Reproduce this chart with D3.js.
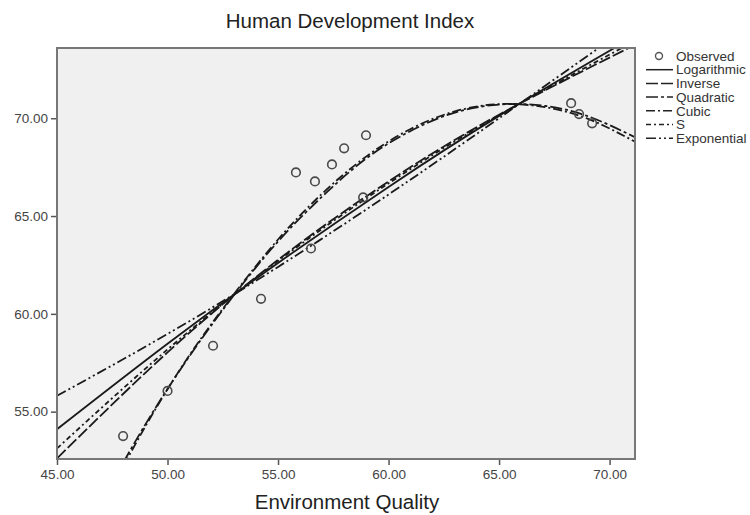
<!DOCTYPE html>
<html>
<head>
<meta charset="utf-8">
<script src="https://cdn.jsdelivr.net/npm/d3@7"></script>
<style>
  html, body { margin: 0; padding: 0; background: #fff; }
  svg { display: block; font-family: Arial, "Liberation Sans", sans-serif; }
</style>
</head>
<body>
<svg id="chart" width="750" height="515"></svg>
<script>
// ---- Data ----
const obsX = [47.99, 50.00, 52.06, 54.23, 55.81, 56.49, 56.67, 57.44, 57.99, 58.85, 58.98, 68.26, 68.62, 69.21];
const obsY = [53.75, 56.06, 58.37, 60.77, 67.23, 63.34, 66.77, 67.64, 68.46, 65.95, 69.13, 70.77, 70.21, 69.74];

const lineX = [45, 50, 55, 60, 65, 71.15];
const logY  = [54.10, 58.47, 62.60, 66.49, 70.12, 74.20];
const invY  = [52.61, 58.03, 62.76, 66.77, 70.18, 73.75];
const sY    = [53.12, 58.18, 62.70, 66.67, 70.15, 73.95];
const expY  = [55.81, 58.97, 62.40, 66.10, 70.00, 74.90];

const polyX  = [45, 47, 49, 51, 53, 55, 57, 59, 61, 63, 65, 67, 69, 71.15];
const quadY  = [45.70, 50.29, 54.35, 57.85, 60.95, 63.70, 66.00, 67.95, 69.35, 70.29, 70.70, 70.64, 70.11, 69.03];
const cubicY = [45.20, 50.00, 54.25, 57.90, 61.00, 63.80, 66.15, 68.05, 69.45, 70.35, 70.72, 70.58, 69.98, 68.80];

const xTicks = [45, 50, 55, 60, 65, 70];
const yTicks = [55, 60, 65, 70];

const seriesNames = ["Logarithmic", "Inverse", "Quadratic", "Cubic", "S", "Exponential"];
const titleText = "Human Development Index";
const xTitle = "Environment Quality";

// ---- Layout ----
const svg = d3.select("#chart");
const pL = 57, pR = 635, pT = 48, pB = 459;
const x = d3.scaleLinear().domain([45, 71.15]).range([pL, pR]);
const y = d3.scaleLinear().domain([52.58, 73.59]).range([pB, pT]);

const dashes = {
  "Logarithmic": null,
  "Inverse": "12,3",
  "Quadratic": "12,3,3,3",
  "Cubic": "9,3,2,3",
  "S": "5,3,2,3",
  "Exponential": "10,3,2,3,2,3"
};

svg.append("defs").append("clipPath").attr("id", "plotclip")
  .append("rect").attr("x", pL).attr("y", pT).attr("width", pR - pL).attr("height", pB - pT);

// plot background
svg.append("rect").attr("x", pL).attr("y", pT).attr("width", pR - pL).attr("height", pB - pT)
  .attr("fill", "#f0f0f0");

// axes
const xAxis = svg.append("g").attr("transform", `translate(0,${pB})`)
  .call(d3.axisBottom(x).tickValues(xTicks).tickFormat(d3.format(".2f")).tickSize(6).tickPadding(4));
const yAxis = svg.append("g").attr("transform", `translate(${pL},0)`)
  .call(d3.axisLeft(y).tickValues(yTicks).tickFormat(d3.format(".2f")).tickSize(6).tickPadding(3));
[xAxis, yAxis].forEach(g => {
  g.select(".domain").remove();
  g.selectAll("line").attr("stroke", "#555").attr("stroke-width", 1.5);
  g.selectAll("text").attr("fill", "#444").attr("font-size", 13.5)
    .attr("font-family", "Arial, 'Liberation Sans', sans-serif");
});

// curves
const plot = svg.append("g").attr("clip-path", "url(#plotclip)");
const lineGen = d3.line().x(d => x(d[0])).y(d => y(d[1])).curve(d3.curveNatural);
const curves = [
  ["Logarithmic", lineX, logY],
  ["Inverse", lineX, invY],
  ["Quadratic", polyX, quadY],
  ["Cubic", polyX, cubicY],
  ["S", lineX, sY],
  ["Exponential", lineX, expY]
];
curves.forEach(([name, xs, ys]) => {
  plot.append("path")
    .datum(xs.map((v, i) => [v, ys[i]]))
    .attr("d", lineGen)
    .attr("fill", "none")
    .attr("stroke", "#1a1a1a")
    .attr("stroke-width", 1.8)
    .attr("stroke-dasharray", dashes[name]);
});

// observed points
plot.selectAll("circle.obs").data(obsX.map((v, i) => [v, obsY[i]])).join("circle")
  .attr("class", "obs")
  .attr("cx", d => x(d[0])).attr("cy", d => y(d[1])).attr("r", 4.3)
  .attr("fill", "none").attr("stroke", "#4a4a4a").attr("stroke-width", 1.6);

// frame
svg.append("rect").attr("x", pL).attr("y", pT).attr("width", pR - pL).attr("height", pB - pT)
  .attr("fill", "none").attr("stroke", "#777").attr("stroke-width", 2);

// titles
svg.append("text").attr("x", 350).attr("y", 28).attr("text-anchor", "middle")
  .attr("font-size", 20.5).attr("fill", "#222").text(titleText);
svg.append("text").attr("x", 347).attr("y", 509).attr("text-anchor", "middle")
  .attr("font-size", 20.5).attr("fill", "#222").text(xTitle);

// legend
const lg = svg.append("g").attr("font-size", 13.5).attr("fill", "#333");
const ly0 = 56, lstep = 13.7;
lg.append("circle").attr("cx", 659).attr("cy", ly0).attr("r", 3.5)
  .attr("fill", "none").attr("stroke", "#555").attr("stroke-width", 1.4);
lg.append("text").attr("x", 676).attr("y", ly0).attr("dy", "0.35em").text("Observed");
seriesNames.forEach((name, i) => {
  const yy = ly0 + lstep * (i + 1);
  lg.append("line").attr("x1", 646).attr("x2", 673).attr("y1", yy).attr("y2", yy)
    .attr("stroke", "#222").attr("stroke-width", 1.5).attr("stroke-dasharray", dashes[name]);
  lg.append("text").attr("x", 676).attr("y", yy).attr("dy", "0.35em").text(name);
});
</script>
</body>
</html>
